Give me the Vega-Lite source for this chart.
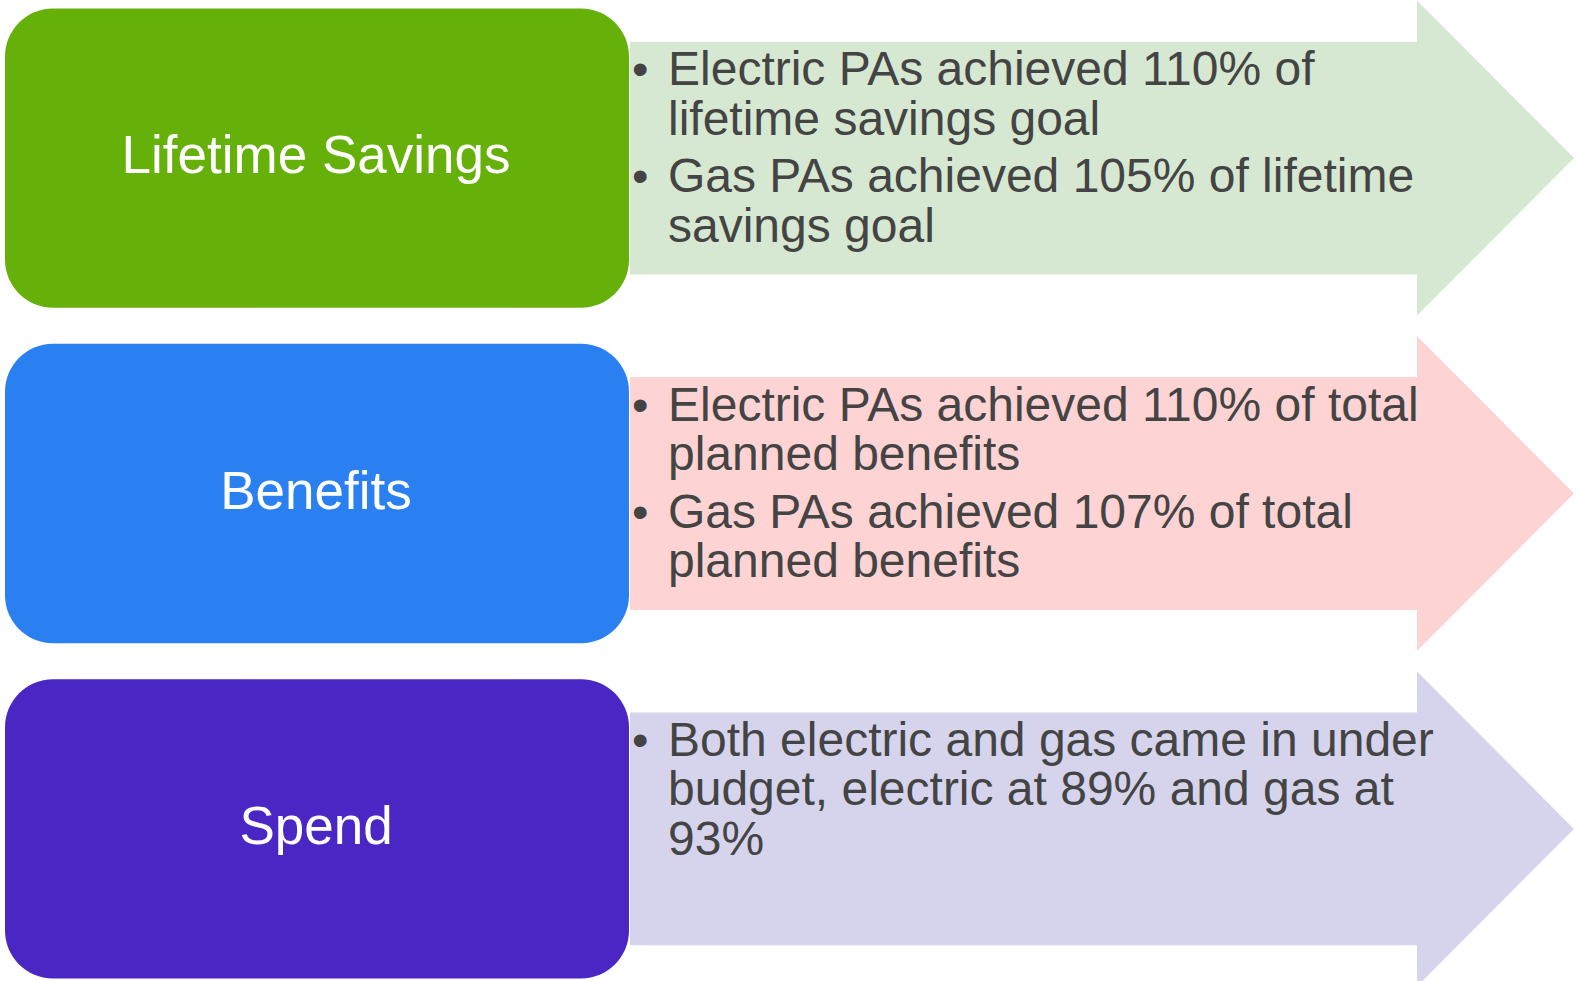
{
  "$schema": "https://vega.github.io/schema/vega-lite/v6.json",
  "width": 1579,
  "height": 981,
  "autosize": {"type": "fit", "contains": "padding"},
  "padding": 0,
  "background": "white",
  "config": {"view": {"stroke": null}},
  "datasets": {
    "panels": [
      {"panel": "Lifetime Savings"},
      {"panel": "Benefits"},
      {"panel": "Spend"}
    ],
    "bullets": [
      {"panel": "Lifetime Savings", "bullet": 1, "lines": ["Electric PAs achieved 110% of", "lifetime savings goal"]},
      {"panel": "Lifetime Savings", "bullet": 2, "lines": ["Gas PAs achieved 105% of lifetime", "savings goal"]},
      {"panel": "Benefits", "bullet": 1, "lines": ["Electric PAs achieved 110% of total", "planned benefits"]},
      {"panel": "Benefits", "bullet": 2, "lines": ["Gas PAs achieved 107% of total", "planned benefits"]},
      {"panel": "Spend", "bullet": 1, "lines": ["Both electric and gas came in under", "budget, electric at 89% and gas at", "93%"]}
    ]
  },
  "encoding": {
    "y": {
      "field": "panel",
      "type": "nominal",
      "sort": ["Lifetime Savings", "Benefits", "Spend"],
      "scale": {"domain": ["Lifetime Savings", "Benefits", "Spend"], "paddingInner": 0.075, "paddingOuter": 0, "range": [1, 982]},
      "axis": null
    }
  },
  "layer": [
    {
      "data": {"name": "panels"},
      "mark": {
        "type": "point",
        "shape": "M-1,-0.2468L0.6674,-0.2468L0.6674,-0.3337L1,0L0.6674,0.3337L0.6674,0.2468L-1,0.2468Z",
        "size": 891136,
        "filled": true,
        "opacity": 1,
        "strokeWidth": 0
      },
      "encoding": {
        "x": {"datum": 1102, "type": "quantitative", "scale": {"domain": [0, 1579], "nice": false, "zero": false}, "axis": null},
        "color": {
          "field": "panel",
          "type": "nominal",
          "scale": {"domain": ["Lifetime Savings", "Benefits", "Spend"], "range": ["#D6E8D1", "#FDD3D3", "#D6D4EC"]},
          "legend": null
        }
      }
    },
    {
      "data": {"name": "panels"},
      "mark": {"type": "rect", "cornerRadius": 48, "height": {"band": 0.965}},
      "encoding": {
        "x": {"datum": 5, "type": "quantitative"},
        "x2": {"datum": 629},
        "fill": {
          "field": "panel",
          "type": "nominal",
          "scale": {"domain": ["Lifetime Savings", "Benefits", "Spend"], "range": ["#66B00A", "#2A80F1", "#4A27C5"]},
          "legend": null
        }
      }
    },
    {
      "data": {"name": "panels"},
      "mark": {"type": "text", "align": "center", "baseline": "alphabetic", "dy": 15, "fontSize": 53, "font": "Liberation Sans", "color": "#FFFFFF"},
      "encoding": {
        "x": {"datum": 316, "type": "quantitative"},
        "text": {"field": "panel", "type": "nominal"}
      }
    },
    {
      "data": {"name": "bullets"},
      "transform": [{"filter": "datum.bullet == 1"}],
      "layer": [
        {
          "mark": {"type": "text", "align": "left", "baseline": "alphabetic", "dy": -73, "fontSize": 48, "lineHeight": 49.5, "font": "Liberation Sans", "color": "#444444"},
          "encoding": {
            "x": {"datum": 668, "type": "quantitative"},
            "text": {"field": "lines", "type": "nominal"}
          }
        },
        {
          "mark": {"type": "text", "align": "left", "baseline": "alphabetic", "dy": -73, "fontSize": 47, "font": "Liberation Sans", "color": "#444444"},
          "encoding": {
            "x": {"datum": 632, "type": "quantitative"},
            "text": {"value": "•"}
          }
        }
      ]
    },
    {
      "data": {"name": "bullets"},
      "transform": [{"filter": "datum.bullet == 2"}],
      "layer": [
        {
          "mark": {"type": "text", "align": "left", "baseline": "alphabetic", "dy": 34, "fontSize": 48, "lineHeight": 49.5, "font": "Liberation Sans", "color": "#444444"},
          "encoding": {
            "x": {"datum": 668, "type": "quantitative"},
            "text": {"field": "lines", "type": "nominal"}
          }
        },
        {
          "mark": {"type": "text", "align": "left", "baseline": "alphabetic", "dy": 34, "fontSize": 47, "font": "Liberation Sans", "color": "#444444"},
          "encoding": {
            "x": {"datum": 632, "type": "quantitative"},
            "text": {"value": "•"}
          }
        }
      ]
    }
  ],
  "resolve": {"scale": {"color": "independent", "fill": "independent"}}
}
